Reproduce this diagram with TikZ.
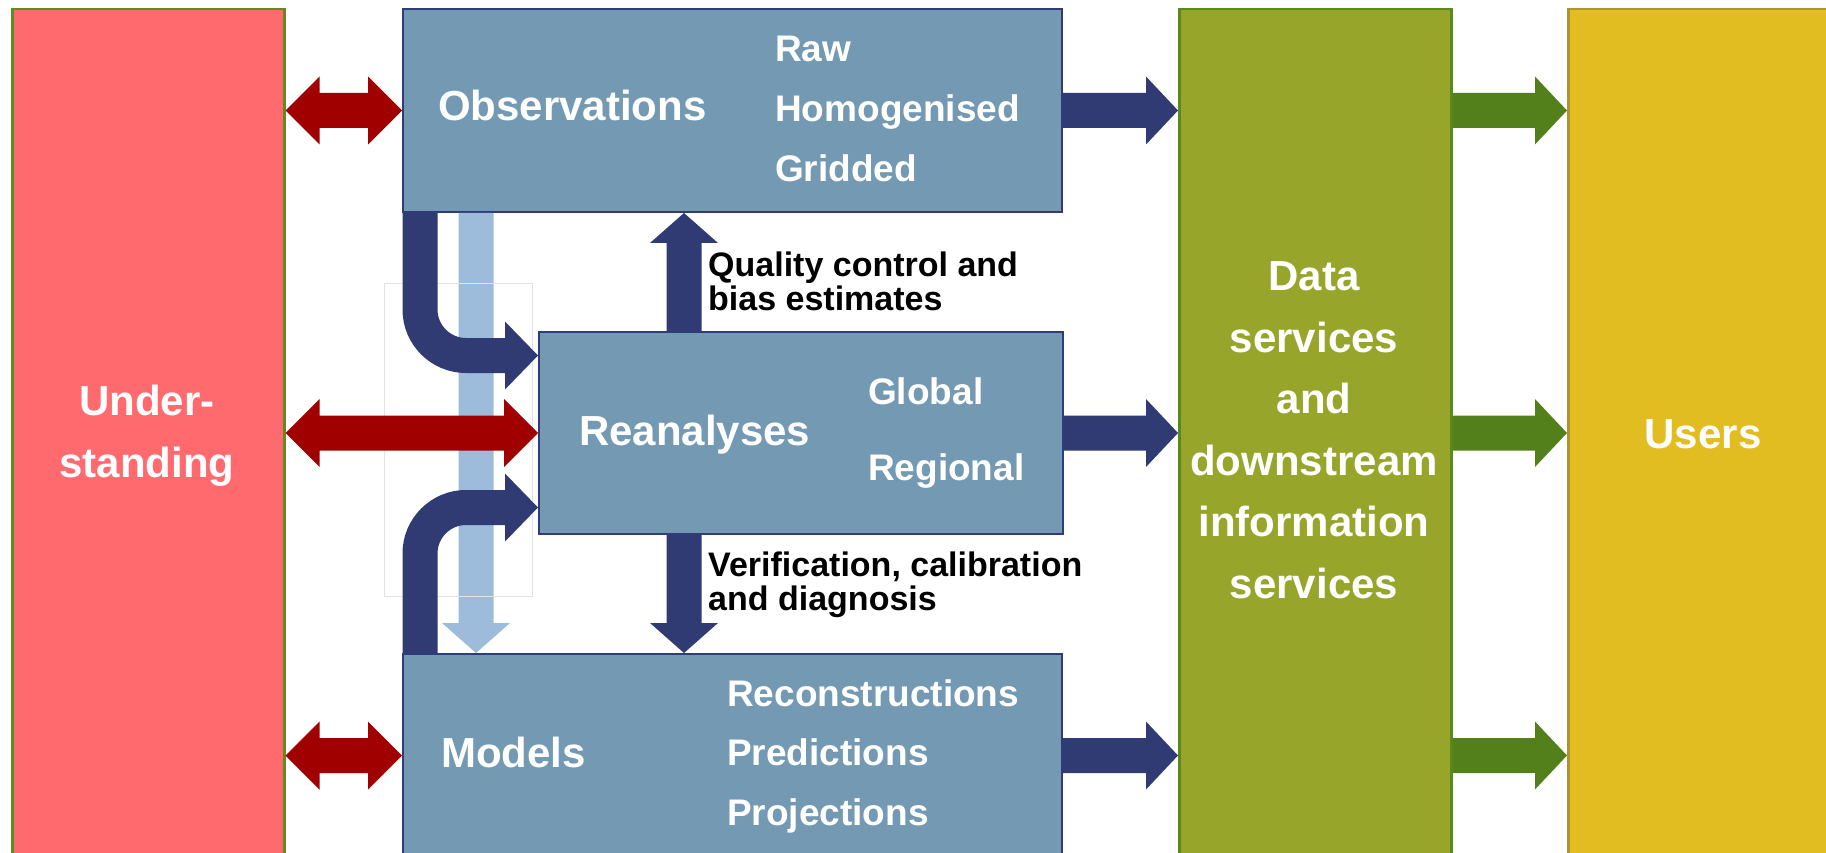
\documentclass[tikz,border=0pt]{standalone}
\usepackage{fontspec}
\setmainfont{Liberation Sans}
\usetikzlibrary{calc}
\definecolor{undfill}{HTML}{FF6A6F}
\definecolor{undline}{HTML}{5E8B22}
\definecolor{boxfill}{HTML}{7399B3}
\definecolor{boxline}{HTML}{2F3C78}
\definecolor{navyarrow}{HTML}{303B74}
\definecolor{lightarrow}{HTML}{9DBBDA}
\definecolor{redarrow}{HTML}{A00000}
\definecolor{datafill}{HTML}{97A52B}
\definecolor{dataline}{HTML}{5A8A1E}
\definecolor{greenarrow}{HTML}{53801A}
\definecolor{usersfill}{HTML}{E2BD22}
\definecolor{usersline}{HTML}{AE9430}
\definecolor{framegray}{HTML}{E2E2E2}
\tikzset{
  box/.style={rectangle, draw=boxline, line width=2pt, fill=boxfill, inner sep=0pt, anchor=north west},
  column/.style={rectangle, line width=2.5pt, inner sep=0pt, anchor=north west, minimum width=272pt, minimum height=900pt},
  big/.style={font=\fontsize{42}{61.5}\selectfont\bfseries, text=white, inner sep=0pt},
  sub/.style={font=\fontsize{37}{45}\selectfont\bfseries, text=white, inner sep=0pt, anchor=base west},
  note/.style={font=\fontsize{34}{34}\selectfont\bfseries, text=black, inner sep=0pt, anchor=base west, align=left},
}
% horizontal arrow to the right: style, start, end
\newcommand{\rarr}[3]{\fill[#1] let \p1=#2, \p2=#3 in
  (\x1,\y2+17.5pt) -- (\x2-32pt,\y2+17.5pt) -- (\x2-32pt,\y2+34pt) -- (\x2,\y2)
  -- (\x2-32pt,\y2-34pt) -- (\x2-32pt,\y2-17.5pt) -- (\x1,\y2-17.5pt) -- cycle;}
% horizontal double arrow
\newcommand{\lrarr}[3]{\fill[#1] let \p1=#2, \p2=#3 in
  (\x1,\y2) -- (\x1+34pt,\y2+34pt) -- (\x1+34pt,\y2+17.5pt) -- (\x2-34pt,\y2+17.5pt)
  -- (\x2-34pt,\y2+34pt) -- (\x2,\y2) -- (\x2-34pt,\y2-34pt) -- (\x2-34pt,\y2-17.5pt)
  -- (\x1+34pt,\y2-17.5pt) -- (\x1+34pt,\y2-34pt) -- cycle;}
% vertical arrow pointing down
\newcommand{\darr}[3]{\fill[#1] let \p1=#2, \p2=#3 in
  (\x1-17.5pt,\y1) -- (\x1-17.5pt,\y2+30pt) -- (\x1-34pt,\y2+30pt) -- (\x1,\y2)
  -- (\x1+34pt,\y2+30pt) -- (\x1+17.5pt,\y2+30pt) -- (\x1+17.5pt,\y1) -- cycle;}
% vertical arrow pointing up
\newcommand{\uarr}[3]{\fill[#1] let \p1=#2, \p2=#3 in
  (\x1-17.5pt,\y1) -- (\x1-17.5pt,\y2-30pt) -- (\x1-34pt,\y2-30pt) -- (\x1,\y2)
  -- (\x1+34pt,\y2-30pt) -- (\x1+17.5pt,\y2-30pt) -- (\x1+17.5pt,\y1) -- cycle;}
% bent arrow: vertical then horizontal to the right
\newcommand{\carr}[3]{%
  \draw[#1, line width=35pt, rounded corners=46pt] let \p2=#3 in #2 |- (\x2-32pt,\y2);
  \fill[#1] let \p2=#3 in (\x2-33pt,\y2+34pt) -- (\x2,\y2) -- (\x2-33pt,\y2-34pt) -- cycle;}

\begin{document}
\begin{tikzpicture}[x=1pt,y=-1pt]
\useasboundingbox (0,0) rectangle (1826,853);
\clip (0,0) rectangle (1826,853);
\fill[white] (0,0) rectangle (1826,853);

% columns
\node[column, draw=undline, fill=undfill] (und) at (11,8) {};
\node[column, draw=dataline, fill=datafill] (data) at (1178,8) {};
\node[column, draw=usersline, fill=usersfill] (users) at (1567,8) {};

% blue boxes
\node[box, minimum width=659pt, minimum height=203pt] (obs) at (402,8) {};
\node[box, minimum width=524pt, minimum height=202pt] (rean) at (538,331) {};
\node[box, minimum width=659pt, minimum height=203pt] (mod) at (402,653) {};

% texts (multi-line nodes: base anchor is on the last line)
\node[big, anchor=base, align=center] (undt) at (147,477) {Under-\\standing};
\node[big, anchor=base, align=center] (datat) at (1314,598) {Data\\services\\and\\downstream\\information\\services};
\node[big, anchor=base] (userst) at (1703,448) {Users};

\node[big, anchor=base west] (obst) at (438,121) {Observations};
\node[sub] (raw) at (775,62) {Raw};
\node[sub] (hom) at (775,122) {Homogenised};
\node[sub] (grid) at (775,182) {Gridded};

\node[big, anchor=base west] (reant) at (579,445) {Reanalyses};
\node[sub] (glob) at (868,404) {Global};
\node[sub] (regi) at (868,480) {Regional};

\node[big, anchor=base west] (modt) at (441,767) {Models};
\node[sub] (recon) at (727,706) {Reconstructions};
\node[sub] (pred) at (727,765) {Predictions};
\node[sub] (proj) at (727,825) {Projections};

\node[note] (qcl) at (708,310) {Quality control and\\bias estimates};
\node[note] (vcl) at (708,610) {Verification, calibration\\and diagnosis};

% helper coordinates
\coordinate (qx) at (684,0);
\coordinate (cx) at (420,0);
\coordinate (lx) at (476,0);
\coordinate (ty) at (0,355.5);
\coordinate (by) at (0,507.5);

% light blue arrow observations -> models (lowest layer of arrows)
\darr{lightarrow}{(lx |- obs.south)}{(lx |- mod.north)}

% faint frame
\draw[framegray, line width=1pt] (384,283) rectangle (532,596);

% red double arrows
\lrarr{redarrow}{(und.east)}{(obs.west)}
\lrarr{redarrow}{(und.east)}{(rean.west)}
\lrarr{redarrow}{(und.east)}{(mod.west)}

% arrows to data services
\rarr{navyarrow}{(obs.east)}{(data.west |- obs.east)}
\rarr{navyarrow}{(rean.east)}{(data.west |- rean.east)}
\rarr{navyarrow}{(mod.east)}{(data.west |- mod.east)}

% arrows to users
\rarr{greenarrow}{(data.east |- obs.east)}{(users.west |- obs.east)}
\rarr{greenarrow}{(data.east |- rean.east)}{(users.west |- rean.east)}
\rarr{greenarrow}{(data.east |- mod.east)}{(users.west |- mod.east)}

% vertical arrows between reanalyses and the other boxes
\uarr{navyarrow}{(qx |- rean.north)}{(qx |- obs.south)}
\darr{navyarrow}{(qx |- rean.south)}{(qx |- mod.north)}

% bent arrows into reanalyses
\carr{navyarrow}{(cx |- obs.south)}{(rean.west |- ty)}
\carr{navyarrow}{(cx |- mod.north)}{(rean.west |- by)}
\end{tikzpicture}
\end{document}
